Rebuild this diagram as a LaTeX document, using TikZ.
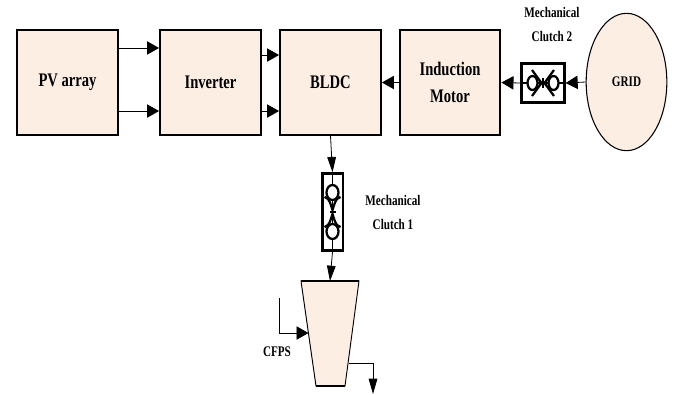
\documentclass[tikz,border=0pt]{standalone}
\usepackage{fontspec}
\setmainfont{Liberation Serif}[FakeStretch=0.76]
\usepackage{tikz}
\usetikzlibrary{arrows.meta,shapes.geometric}
\definecolor{boxfill}{RGB}{253,238,228}

\tikzset{
  block/.style={draw,line width=1.7pt,fill=boxfill,minimum width=75.5pt,minimum height=78.5pt,align=center,
    font=\fontsize{14.4}{20}\selectfont\bfseries},
  clutchbox/.style={draw,line width=2pt,fill=white,inner sep=0pt},
  flow/.style={line width=.6pt,-{Triangle[length=9pt,width=10pt]}},
  flowdown/.style={line width=.6pt,-{Triangle[length=11.5pt,width=6.5pt]}},
  note/.style={align=center,inner sep=0pt,font=\fontsize{11}{17.5}\selectfont\bfseries},
  shaft/.style={line width=.9pt},
  claw/.style={line width=1.7pt}
}

\begin{document}
\begin{tikzpicture}[x=0.75pt,y=-0.75pt]
  \useasboundingbox (0,0) rectangle (674,394);

  \node[block] (pv) at (67.5,82.5) {PV array};
  \node[block] (inv) at (210.5,82.5) {Inverter};
  \node[block] (bldc) at (330.5,82.5) {BLDC};
  \node[block] (motor) at (450,82.5) {Induction\\Motor};
  \node[draw,ellipse,line width=.8pt,fill=boxfill,minimum width=60.5pt,minimum height=103pt,inner sep=0pt,
    font=\fontsize{11}{12}\selectfont\bfseries] (grid) at (626.5,82) {GRID};

  \node[clutchbox,minimum width=32pt,minimum height=29pt] (clutch2) at (543,83) {};
  \node[clutchbox,minimum width=15.5pt,minimum height=57.5pt] (clutch1) at (332.5,212) {};

  % pump body
  \coordinate (pumptl) at (301,281);
  \coordinate (pumptr) at (359,281);
  \coordinate (pumpbl) at (316,386);
  \coordinate (pumpbr) at (345,386);
  \coordinate (pumptop) at (330,281);
  \draw[line width=.7pt,fill=boxfill] (pumptl) -- (pumptr) -- (pumpbr) -- (pumpbl) -- cycle;
  \draw[line width=1.9pt] (pumptl) -- (pumptr);
  \draw[line width=1.5pt] (pumpbl) -- (pumpbr);

  \node[note] (label2) at (552,24.5) {Mechanical\\Clutch 2};
  \node[note] (label1) at (393,212.5) {Mechanical\\Clutch 1};
  \node[note] (cfps) at (277,351.5) {CFPS};

  \draw[flow] ([yshift=25.9pt]pv.east) -- ([yshift=25.9pt]inv.west);
  \draw[flow] ([yshift=-21.4pt]pv.east) -- ([yshift=-21.4pt]inv.west);
  \draw[flow] ([yshift=20.6pt]inv.east) -- ([yshift=20.6pt]bldc.west);
  \draw[flow] ([yshift=-21.4pt]inv.east) -- ([yshift=-21.4pt]bldc.west);
  \draw[flow] (motor.west) -- (bldc.east);
  \draw[flow] (clutch2.west) -- (motor.east);
  \draw[flow] (grid.west) -- (clutch2.east);
  \draw[flowdown] (bldc.south) -- (clutch1.north);
  \draw[flowdown] (clutch1.south) -- (pumptop);

  % clutch 2, lying
  \draw[shaft] (clutch2.west) -- (clutch2.east);
  \foreach \s in {-1,1} {
    \draw[claw,fill=white] (543+\s*10.5,83) ellipse (5 and 7);
    \draw[claw] (543+\s*11,70) -- (543+\s*1.5,83) -- (543+\s*11,96);
  }
  \draw[line width=2pt] (543,78) -- (543,88);

  % clutch 1, standing
  \draw[shaft] (clutch1.north) -- (clutch1.south);
  \foreach \s in {-1,1} {
    \draw[claw,fill=white] (332.5,212+\s*19.5) ellipse (6 and 7.5);
    \draw[claw] (324.5,212+\s*15) .. controls (329,212+\s*13) .. (332.5,212+\s*2) .. controls (336,212+\s*13) .. (340.5,212+\s*15);
  }
  \draw[line width=2pt] (329.5,212) -- (335.5,212);

  % fuel feed and outlet of the pump
  \coordinate (cfpsstart) at (279,298);
  \coordinate (cfpsend) at (308.5,333);
  \coordinate (pumpout) at (349,363);
  \coordinate (pumpend) at (373,394);
  \draw[flow] (cfpsstart) |- (cfpsend);
  \draw[flowdown] (pumpout) -| (pumpend);
\end{tikzpicture}
\end{document}
